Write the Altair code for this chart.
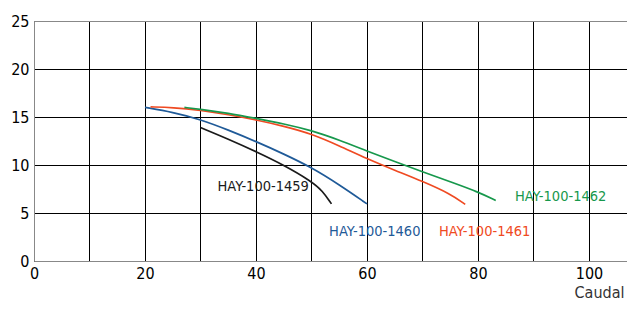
import altair as alt
import pandas as pd

# curve data (caudal, altura)
x1459 = [30, 35, 40, 45, 50, 52, 53.6]
y1459 = [13.9, 12.7, 11.4, 10.0, 8.3, 7.3, 5.95]
x1460 = [20, 25, 30, 35, 40, 45, 50, 55, 60]
y1460 = [16.0, 15.5, 14.75, 13.65, 12.45, 11.15, 9.75, 7.95, 5.95]
x1461 = [21, 25, 30, 35, 40, 45, 50, 55, 60, 65, 70, 75, 77.7]
y1461 = [16.05, 16.0, 15.7, 15.25, 14.7, 14.05, 13.25, 12.0, 10.65, 9.45, 8.3, 7.0, 5.9]
x1462 = [27.1, 30, 35, 40, 45, 50, 55, 60, 65, 70, 75, 80, 83.2]
y1462 = [16.0, 15.8, 15.4, 14.85, 14.3, 13.6, 12.6, 11.45, 10.35, 9.3, 8.25, 7.2, 6.3]

names = ["HAY-100-1459", "HAY-100-1460", "HAY-100-1461", "HAY-100-1462"]
colors = ["#1a1a1a", "#1f5a98", "#ef4a22", "#17984c"]
label_x = [41.3, 61.4, 81.2, 94.9]
label_y = [7.7, 3.0, 3.0, 6.7]

xs = [x1459, x1460, x1461, x1462]
ys = [y1459, y1460, y1461, y1462]

rows = []
for n, xx, yy in zip(names, xs, ys):
    for i, (a, b) in enumerate(zip(xx, yy)):
        rows.append({"model": n, "q": a, "h": b, "o": i})
df = pd.DataFrame(rows)
lab = pd.DataFrame({"model": names, "q": label_x, "h": label_y})

FONT = "DejaVu Sans Condensed"

xscale = alt.Scale(domain=[0, 106.85], nice=False, zero=False)
yscale = alt.Scale(domain=[0, 25], nice=False)
cscale = alt.Scale(domain=names, range=colors)

lines = alt.Chart(df).mark_line(strokeWidth=1.7, interpolate="basis").encode(
    x=alt.X("q:Q", scale=xscale,
            axis=alt.Axis(values=list(range(0, 101, 10)),
                          labelExpr="datum.value % 20 == 0 ? datum.label : ''",
                          grid=True, gridColor="#000000", gridWidth=1,
                          ticks=False, domainColor="#888888", labelPadding=4,
                          labelFlush=False,
                          labelFontSize=16, labelFont=FONT, labelColor="#000",
                          title="Caudal", titleFont=FONT, titleFontSize=16,
                          titleFontWeight="normal", titleColor="#333",
                          titleAlign="right", titleAnchor="end",
                          titleX=590, titleY=36, titleBaseline="alphabetic")),
    y=alt.Y("h:Q", scale=yscale,
            axis=alt.Axis(values=[0, 5, 10, 15, 20, 25], grid=True,
                          gridColor=alt.condition("datum.value == 25", alt.value("#888888"), alt.value("#000000")),
                          ticks=False, domainColor="#888888", labelPadding=5,
                          labelFlush=False,
                          labelFontSize=16, labelFont=FONT, labelColor="#000",
                          title=None)),
    color=alt.Color("model:N", scale=cscale, legend=None),
    order="o:Q",
    detail="model:N",
)

labels = alt.Chart(lab).mark_text(font=FONT, fontSize=14.5, align="center", baseline="middle").encode(
    x=alt.X("q:Q", scale=xscale),
    y=alt.Y("h:Q", scale=yscale),
    text="model:N",
    color=alt.Color("model:N", scale=cscale, legend=None),
)

chart = (lines + labels).properties(
    width=593, height=240,
    autosize=alt.AutoSizeParams(type="none"),
    padding={"left": 26, "top": 13, "right": 0, "bottom": 41},
).configure_view(stroke=None).configure(background="white")

chart.save("out.html", embed_options={"renderer": "svg", "actions": False})
